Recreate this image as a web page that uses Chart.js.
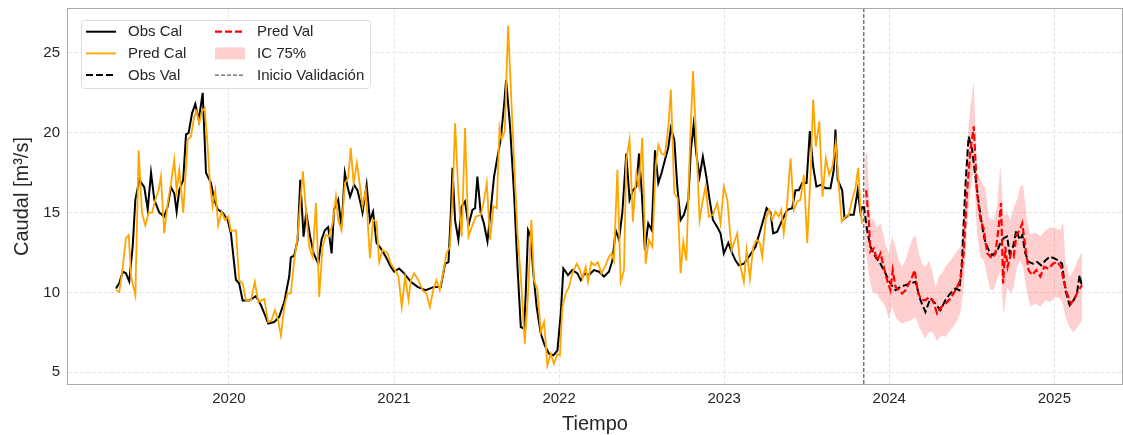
<!DOCTYPE html>
<html>
<head>
<meta charset="utf-8">
<script src="https://cdn.jsdelivr.net/npm/chart.js@4"></script>
<style>
  html, body { margin: 0; padding: 0; background: #fff; }
  #wrap { width: 1123px; height: 435px; }
</style>
</head>
<body>
<div id="wrap"><canvas id="caudalChart" width="1123" height="435"></canvas></div>
<script>
// fechas en años decimales (m3/s)
const tObsCal = [2019.316,2019.336,2019.357,2019.376,2019.396,2019.417,2019.433,2019.457,2019.487,2019.508,
  2019.528,2019.548,2019.578,2019.608,2019.629,2019.649,2019.669,2019.683,2019.699,2019.723,
  2019.740,2019.756,2019.776,2019.796,2019.817,2019.841,2019.861,2019.891,2019.911,2019.932,
  2019.962,2019.992,2020.012,2020.042,2020.062,2020.083,2020.123,2020.163,2020.194,2020.214,
  2020.238,2020.274,2020.304,2020.335,2020.365,2020.375,2020.395,2020.416,2020.432,2020.452,
  2020.468,2020.492,2020.513,2020.541,2020.561,2020.581,2020.601,2020.622,2020.637,2020.662,
  2020.682,2020.702,2020.719,2020.734,2020.758,2020.779,2020.799,2020.809,2020.834,2020.854,
  2020.873,2020.894,2020.920,2020.950,2020.981,2021.001,2021.031,2021.061,2021.102,2021.142,
  2021.192,2021.243,2021.283,2021.309,2021.330,2021.344,2021.354,2021.370,2021.390,2021.410,
  2021.430,2021.451,2021.475,2021.491,2021.505,2021.525,2021.545,2021.566,2021.586,2021.606,
  2021.627,2021.646,2021.666,2021.679,2021.703,2021.727,2021.748,2021.768,2021.788,2021.798,
  2021.812,2021.828,2021.844,2021.864,2021.889,2021.913,2021.939,2021.966,2021.990,2022.010,
  2022.026,2022.054,2022.080,2022.111,2022.131,2022.155,2022.181,2022.211,2022.242,2022.272,
  2022.302,2022.323,2022.343,2022.363,2022.383,2022.407,2022.427,2022.447,2022.468,2022.484,
  2022.500,2022.520,2022.540,2022.561,2022.581,2022.601,2022.621,2022.641,2022.662,2022.677,
  2022.698,2022.716,2022.736,2022.756,2022.783,2022.798,2022.815,2022.831,2022.851,2022.871,
  2022.892,2022.912,2022.932,2022.958,2022.978,2022.998,2023.025,2023.049,2023.069,2023.089,
  2023.119,2023.150,2023.190,2023.225,2023.257,2023.281,2023.297,2023.321,2023.352,2023.382,
  2023.412,2023.432,2023.452,2023.473,2023.499,2023.519,2023.539,2023.559,2023.584,2023.614,
  2023.644,2023.664,2023.674,2023.688,2023.715,2023.729,2023.755,2023.785,2023.809,2023.826,
  2023.838];
const obsCal = [10.25,10.6,11.3,11.2,10.7,12.9,15.8,17.05,16.6,15.2,
  17.5,15.8,15.0,14.75,15.4,16.6,16.2,15.06,16.4,17.05,
  19.9,20.0,21.2,21.8,20.8,22.5,17.5,16.85,15.8,15.2,
  15.0,14.55,13.7,10.8,10.56,9.5,9.5,9.77,9.2,8.7,
  8.05,8.15,8.47,9.4,11.0,12.2,12.3,13.3,17.05,13.5,
  15.0,13.5,12.45,11.8,13.3,13.9,14.1,12.45,15.2,15.8,
  14.1,17.5,16.6,16.0,16.74,16.4,15.5,15.0,16.74,14.5,
  15.06,13.1,12.76,12.24,11.6,11.3,11.5,11.2,10.67,10.35,
  10.14,10.35,10.35,11.8,11.9,15.0,17.8,14.5,13.3,15.4,
  15.7,14.2,15.17,15.28,17.26,15.0,14.3,13.2,15.17,17.26,
  18.5,19.57,21.66,23.3,20.4,16.2,11.6,7.84,7.74,9.94,
  13.9,13.5,11.2,9.1,7.42,6.69,6.17,6.06,6.38,8.68,
  11.5,11.09,11.4,11.2,10.77,11.2,11.09,11.4,11.3,11.0,
  11.3,12.0,13.9,13.3,15.0,18.7,15.8,16.4,16.63,18.7,
  16.4,12.66,14.33,13.9,18.9,16.85,17.5,18.3,19.1,20.3,
  19.57,16.63,14.54,14.86,15.8,18.9,20.5,18.7,17.26,18.5,
  17.26,15.8,14.54,14.1,13.7,12.45,13.1,12.45,12.0,11.7,
  11.8,12.24,12.86,14.1,15.28,15.0,13.7,13.8,14.54,15.17,
  15.28,16.4,16.4,16.85,16.85,20.1,17.9,16.63,16.74,16.53,
  16.53,17.68,20.2,17.05,16.4,14.65,14.86,14.86,16.4,15.0,
  15.4];

const tPredCal = [2019.316,2019.336,2019.357,2019.376,2019.393,2019.407,2019.433,2019.453,2019.473,2019.493,
  2019.514,2019.534,2019.554,2019.574,2019.588,2019.608,2019.629,2019.649,2019.669,2019.683,
  2019.699,2019.723,2019.750,2019.770,2019.790,2019.804,2019.820,2019.837,2019.853,2019.871,
  2019.885,2019.901,2019.917,2019.935,2019.956,2019.976,2019.996,2020.012,2020.042,2020.062,
  2020.083,2020.103,2020.133,2020.157,2020.177,2020.214,2020.238,2020.258,2020.278,2020.298,
  2020.315,2020.335,2020.355,2020.375,2020.395,2020.416,2020.432,2020.448,2020.466,2020.486,
  2020.507,2020.527,2020.547,2020.567,2020.587,2020.607,2020.628,2020.648,2020.662,2020.682,
  2020.702,2020.722,2020.738,2020.755,2020.775,2020.789,2020.809,2020.829,2020.854,2020.873,
  2020.894,2020.910,2020.930,2020.961,2020.981,2021.007,2021.027,2021.047,2021.067,2021.088,
  2021.102,2021.122,2021.148,2021.173,2021.197,2021.217,2021.237,2021.257,2021.277,2021.297,
  2021.318,2021.338,2021.354,2021.370,2021.390,2021.410,2021.430,2021.451,2021.471,2021.495,
  2021.525,2021.542,2021.562,2021.582,2021.602,2021.622,2021.639,2021.651,2021.671,2021.691,
  2021.707,2021.727,2021.748,2021.772,2021.792,2021.812,2021.832,2021.848,2021.869,2021.889,
  2021.909,2021.929,2021.949,2021.969,2021.990,2022.005,2022.020,2022.040,2022.060,2022.080,
  2022.107,2022.127,2022.141,2022.161,2022.175,2022.195,2022.215,2022.235,2022.256,2022.282,
  2022.302,2022.318,2022.332,2022.353,2022.373,2022.393,2022.407,2022.427,2022.447,2022.468,
  2022.484,2022.504,2022.524,2022.544,2022.565,2022.585,2022.601,2022.621,2022.641,2022.662,
  2022.677,2022.698,2022.718,2022.736,2022.752,2022.771,2022.791,2022.811,2022.827,2022.851,
  2022.871,2022.887,2022.907,2022.932,2022.958,2022.978,2022.998,2023.019,2023.045,2023.059,
  2023.079,2023.099,2023.119,2023.136,2023.156,2023.176,2023.196,2023.216,2023.231,2023.251,
  2023.271,2023.291,2023.311,2023.331,2023.346,2023.361,2023.378,2023.402,2023.422,2023.443,
  2023.462,2023.483,2023.503,2023.523,2023.539,2023.555,2023.576,2023.596,2023.616,2023.636,
  2023.656,2023.676,2023.692,2023.712,2023.735,2023.755,2023.775,2023.795,2023.812,2023.826,
  2023.835];
const predCal = [10.14,10.04,11.6,13.4,13.6,11.0,9.83,18.9,15.0,14.2,
  15.0,15.0,15.8,16.4,17.26,13.7,15.6,16.85,18.3,16.4,
  17.68,15.0,19.57,19.77,21.03,21.34,20.6,21.34,21.56,19.15,
  16.85,15.4,16.4,14.2,15.06,14.54,14.75,13.85,13.9,10.77,
  10.56,9.5,9.5,10.67,9.4,9.6,8.15,8.26,8.9,8.26,
  7.3,9.1,9.94,9.94,12.0,13.5,15.6,17.58,15.17,12.86,
  12.24,15.6,9.72,12.86,13.6,13.5,14.33,16.0,14.54,13.9,
  16.85,17.16,19.05,16.85,18.1,17.05,15.4,16.4,12.14,14.54,
  14.43,11.9,12.66,12.45,11.8,11.4,11.0,9.1,11.0,9.52,
  10.77,11.2,10.77,10.14,9.94,9.1,10.14,10.77,10.14,11.2,
  12.45,12.86,15.8,20.6,16.2,13.5,20.3,13.5,14.1,14.75,
  14.86,15.6,16.85,13.3,15.4,15.28,20.3,19.57,20.1,26.7,
  22.9,18.3,13.7,10.35,6.8,9.94,14.54,10.77,10.14,7.53,
  8.15,5.43,6.17,5.54,6.17,6.06,9.1,9.94,10.35,11.2,
  11.8,11.4,10.88,11.6,10.67,11.9,11.7,11.9,11.2,11.7,
  12.24,12.45,12.0,17.68,10.67,11.4,18.3,19.57,14.43,17.47,
  16.63,19.67,11.8,13.3,12.86,17.9,19.25,18.7,18.6,20.4,
  22.7,16.2,15.9,11.2,13.2,12.0,18.7,23.86,20.4,14.54,
  15.8,16.63,14.75,14.86,15.6,14.33,16.63,15.8,12.66,13.1,
  13.7,11.6,10.67,12.66,10.88,12.86,13.3,13.1,12.24,14.54,
  15.17,14.54,15.06,14.75,15.17,13.7,15.17,18.4,15.17,15.7,
  15.8,17.37,13.1,17.26,22.08,19.15,20.7,16.0,18.4,17.37,
  17.9,19.36,17.05,14.43,14.75,14.86,15.8,16.53,17.8,15.17,
  14.33];

const tObsVal = [2023.846,2023.866,2023.886,2023.916,2023.947,2023.977,2024.007,2024.038,2024.068,2024.098,
  2024.128,2024.159,2024.189,2024.219,2024.249,2024.280,2024.310,2024.340,2024.370,2024.401,
  2024.425,2024.441,2024.461,2024.481,2024.502,2024.522,2024.542,2024.562,2024.578,2024.602,
  2024.623,2024.653,2024.673,2024.693,2024.714,2024.729,2024.750,2024.770,2024.790,2024.806,
  2024.824,2024.844,2024.871,2024.895,2024.920,2024.946,2024.972,2025.000,2025.026,2025.047,
  2025.067,2025.093,2025.117,2025.137,2025.153,2025.168];
const obsVal = [15.4,13.9,12.86,12.24,11.8,11.2,10.56,10.14,10.35,10.46,
  10.56,10.67,9.52,8.78,9.62,9.3,8.89,9.52,9.94,10.25,
  10.14,12.0,16.63,19.77,18.94,17.26,15.6,14.2,13.3,12.66,
  12.34,12.55,13.1,13.4,13.5,12.45,12.86,13.9,13.3,13.6,
  12.45,11.92,11.8,11.92,11.7,12.0,12.24,12.14,12.0,11.8,
  10.14,9.2,9.52,9.94,11.09,10.35];

const tPredVal = [2023.860,2023.876,2023.886,2023.906,2023.927,2023.947,2023.967,2023.987,2024.007,2024.021,
  2024.038,2024.058,2024.078,2024.098,2024.118,2024.139,2024.154,2024.175,2024.199,2024.219,
  2024.243,2024.263,2024.290,2024.316,2024.340,2024.370,2024.401,2024.431,2024.451,2024.471,
  2024.492,2024.512,2024.532,2024.552,2024.572,2024.593,2024.623,2024.643,2024.663,2024.677,
  2024.690,2024.703,2024.717,2024.738,2024.754,2024.770,2024.790,2024.806,2024.824,2024.844,
  2024.865,2024.891,2024.915,2024.939,2024.966,2024.992,2025.016,2025.041,2025.056,2025.077,
  2025.101,2025.127,2025.147,2025.168];
const predVal = [16.4,14.54,12.55,12.76,12.0,12.45,11.6,10.77,10.14,11.4,
  10.35,10.14,9.94,10.14,10.56,10.98,11.4,9.94,9.52,9.52,
  9.72,9.52,8.68,9.1,9.3,9.62,10.14,10.77,12.45,16.2,
  18.94,20.4,16.2,14.6,14.0,12.45,12.14,12.45,14.1,15.6,
  10.56,12.86,11.6,12.45,12.24,13.6,13.9,14.33,12.86,11.4,
  11.09,11.4,11.0,11.6,11.5,11.8,11.92,11.6,10.77,9.94,
  9.3,9.72,10.14,10.46];

// intervalo de confianza 75%
const tBanda = [2023.852,2023.866,2023.876,2023.886,2023.896,2023.906,2023.927,2023.947,2023.967,2023.977,
  2023.997,2024.018,2024.038,2024.058,2024.078,2024.098,2024.118,2024.139,2024.159,2024.179,
  2024.199,2024.219,2024.239,2024.260,2024.280,2024.290,2024.300,2024.320,2024.340,2024.370,
  2024.401,2024.431,2024.451,2024.471,2024.492,2024.512,2024.532,2024.552,2024.572,2024.582,
  2024.602,2024.613,2024.633,2024.653,2024.673,2024.693,2024.714,2024.734,2024.754,2024.774,
  2024.794,2024.811,2024.835,2024.855,2024.885,2024.915,2024.946,2024.976,2025.006,2025.036,
  2025.053,2025.067,2025.093,2025.117,2025.141,2025.168];
const bandaSup = [18.5,18.83,16.5,14.75,14.6,14.54,14.1,14.33,13.5,13.0,
  12.45,13.5,12.86,12.0,11.6,12.0,12.66,13.3,13.6,12.45,
  11.8,11.6,12.0,11.4,10.35,10.6,11.0,11.2,11.6,12.0,
  12.45,12.86,15.17,19.36,21.66,23.2,17.47,17.1,16.63,16.63,
  14.75,14.6,14.54,15.4,18.0,14.75,14.96,14.54,15.3,15.8,
  16.63,16.74,14.5,13.65,13.75,13.5,13.9,14.1,14.0,13.9,
  14.43,12.0,10.98,11.4,12.0,12.55];
const bandaInf = [12.9,12.0,11.2,10.6,10.14,10.0,9.9,9.52,9.3,9.1,
  8.37,9.1,8.47,8.2,8.05,8.15,8.2,8.3,8.47,7.9,
  7.5,7.11,7.5,7.55,7.2,6.9,7.1,7.32,7.21,7.63,
  8.05,8.68,10.35,14.1,16.43,17.68,13.7,12.2,12.0,11.6,
  10.6,10.14,10.2,10.8,11.4,8.57,10.35,9.94,10.35,11.6,
  12.0,11.6,9.94,9.1,9.3,9.1,9.52,9.41,9.72,9.62,
  9.2,8.5,7.8,7.5,7.84,8.26];

const yearTicks = [2020, 2021, 2022, 2023, 2024, 2025];
const caudalTicks = [5, 10, 15, 20, 25];
const inicioValidacion = 2023.846;

const X_MIN = 2019.025, X_MAX = 2025.41;
const Y_MIN = 4.27, Y_MAX = 27.75;
const TXT = '#262626';

Chart.defaults.font.family = "'Liberation Sans', Arial, sans-serif";
Chart.defaults.color = TXT;

function pts(t, v) {
  return t.map((x, i) => ({ x: x, y: v[i] }));
}

// marco gris alrededor del área de trazado
const marco = {
  id: 'marco',
  afterDraw(chart) {
    const { ctx, chartArea: a } = chart;
    ctx.save();
    ctx.strokeStyle = '#aaaaaa';
    ctx.lineWidth = 1;
    ctx.strokeRect(Math.round(a.left) - 0.5, Math.round(a.top) - 0.5,
      Math.round(a.right - a.left) + 1, Math.round(a.bottom - a.top) + 1);
    ctx.restore();
  }
};

// leyenda en dos columnas dentro del gráfico
const leyenda = {
  id: 'leyenda',
  afterDraw(chart) {
    const { ctx, chartArea: a } = chart;
    const ds = chart.data.datasets;
    const byLabel = l => ds.find(d => d.label === l);
    const items = [
      ['Obs Cal', 'line'], ['Pred Cal', 'line'], ['Obs Val', 'line'],
      ['Pred Val', 'line'], ['IC 75%', 'patch'], ['Inicio Validación', 'line']
    ];
    const bx = a.left + 13, by = a.top + 11, bw = 289, bh = 68;
    ctx.save();
    ctx.beginPath();
    ctx.roundRect(bx + 0.5, by + 0.5, bw, bh, 3);
    ctx.fillStyle = 'rgba(255,255,255,0.85)';
    ctx.fill();
    ctx.strokeStyle = '#dcdcdc';
    ctx.lineWidth = 1;
    ctx.stroke();

    ctx.font = "15px 'Liberation Sans', Arial, sans-serif";
    ctx.textBaseline = 'middle';
    items.forEach((it, i) => {
      const col = Math.floor(i / 3), row = i % 3;
      const hx = bx + 5 + col * 129;
      const ry = by + 11.7 + row * 21.7;
      const d = byLabel(it[0]);
      if (it[1] === 'patch') {
        ctx.fillStyle = d.backgroundColor;
        ctx.fillRect(hx, ry - 6, 30, 12);
      } else {
        ctx.beginPath();
        ctx.setLineDash(d.borderDash || []);
        ctx.strokeStyle = d.borderColor;
        ctx.lineWidth = d.borderWidth;
        ctx.moveTo(hx, ry);
        ctx.lineTo(hx + 30, ry);
        ctx.stroke();
        ctx.setLineDash([]);
      }
      ctx.fillStyle = TXT;
      ctx.fillText(it[0], hx + 42, ry + 0.5);
    });
    ctx.restore();
  }
};

const lineBase = { pointRadius: 0, pointHoverRadius: 0, tension: 0, fill: false };

new Chart(document.getElementById('caudalChart'), {
  type: 'line',
  data: {
    datasets: [
      Object.assign({}, lineBase, { label: 'Obs Cal', data: pts(tObsCal, obsCal),
        borderColor: '#000000', borderWidth: 2, order: 7 }),
      Object.assign({}, lineBase, { label: 'Pred Cal', data: pts(tPredCal, predCal),
        borderColor: '#FFA500', borderWidth: 1.8, order: 6 }),
      Object.assign({}, lineBase, { label: 'IC inf', data: pts(tBanda, bandaInf),
        borderWidth: 0, borderColor: 'rgba(0,0,0,0)', order: 5 }),
      Object.assign({}, lineBase, { label: 'IC 75%', data: pts(tBanda, bandaSup),
        borderWidth: 0, borderColor: 'rgba(0,0,0,0)', backgroundColor: 'rgba(255,0,0,0.19)',
        fill: '-1', order: 4 }),
      Object.assign({}, lineBase, { label: 'Obs Val', data: pts(tObsVal, obsVal),
        borderColor: '#000000', borderWidth: 2, borderDash: [7, 3], order: 3 }),
      Object.assign({}, lineBase, { label: 'Pred Val', data: pts(tPredVal, predVal),
        borderColor: '#FF0000', borderWidth: 2.2, borderDash: [7, 3], order: 2 }),
      Object.assign({}, lineBase, { label: 'Inicio Validación',
        data: [{ x: inicioValidacion, y: Y_MIN }, { x: inicioValidacion, y: Y_MAX }],
        borderColor: 'rgba(0,0,0,0.8)', borderWidth: 1, borderDash: [4, 2], order: 1 })
    ]
  },
  options: {
    responsive: false,
    animation: false,
    devicePixelRatio: 1,
    layout: { padding: { top: 9, right: 1, left: 0, bottom: 0 } },
    plugins: { legend: { display: false }, tooltip: { enabled: false } },
    scales: {
      x: {
        type: 'linear', min: X_MIN, max: X_MAX,
        afterBuildTicks: s => { s.ticks = yearTicks.map(v => ({ value: v })); },
        afterFit: s => { s.height = 51; s.paddingLeft = 0; s.paddingRight = 0; },
        ticks: { callback: v => String(v), font: { size: 15 }, color: TXT, padding: 6,
                 autoSkip: false, maxRotation: 0 },
        grid: { color: '#e6e6e6', lineWidth: 1, drawTicks: false },
        border: { display: false, dash: [4, 2] },
        title: { display: true, text: 'Tiempo', font: { size: 20 }, color: TXT,
                 padding: { top: 0, bottom: -1 } }
      },
      y: {
        type: 'linear', min: Y_MIN, max: Y_MAX,
        afterBuildTicks: s => { s.ticks = caudalTicks.map(v => ({ value: v })); },
        afterFit: s => { s.width = 68; s.paddingTop = 0; s.paddingBottom = 0; },
        ticks: { callback: v => String(v), font: { size: 15 }, color: TXT, padding: 8,
                 autoSkip: false },
        grid: { color: '#e6e6e6', lineWidth: 1, drawTicks: false },
        border: { display: false, dash: [4, 2] },
        title: { display: true, text: 'Caudal [m³/s]', font: { size: 20 }, color: TXT,
                 padding: { top: 10, bottom: 0 } }
      }
    }
  },
  plugins: [marco, leyenda]
});
</script>
</body>
</html>
